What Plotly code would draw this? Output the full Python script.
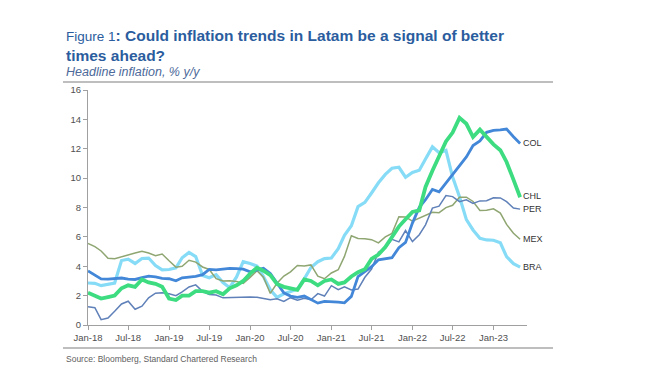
import plotly.graph_objects as go
import pandas as pd

months = pd.date_range("2018-01-01", "2023-05-01", freq="MS").strftime("%Y-%m-%d").tolist()

bra = [2.86, 2.84, 2.68, 2.76, 2.86, 4.39, 4.48, 4.19, 4.53, 4.56, 4.05, 3.75,
       3.78, 3.89, 4.58, 4.94, 4.66, 3.37, 3.22, 3.43, 2.89, 2.54, 3.27, 4.31,
       4.19, 4.01, 3.30, 2.40, 1.88, 2.13, 2.31, 2.44, 3.14, 3.92, 4.31, 4.52,
       4.56, 5.20, 6.10, 6.76, 8.06, 8.35, 8.99, 9.68, 10.25, 10.67, 10.74, 10.06,
       10.38, 10.54, 11.30, 12.13, 11.73, 11.89, 10.07, 8.73, 7.17, 6.47, 5.90, 5.79,
       5.77, 5.60, 4.65, 4.18, 3.94]
chl = [2.2, 2.0, 1.8, 1.9, 2.0, 2.5, 2.7, 2.6, 3.1, 2.9, 2.8, 2.6,
       1.8, 1.7, 2.0, 2.0, 2.3, 2.3, 2.2, 2.3, 2.1, 2.5, 2.7, 3.0,
       3.5, 3.9, 3.7, 3.4, 2.8, 2.6, 2.5, 2.4, 3.1, 3.0, 2.7, 3.0,
       3.1, 2.8, 2.9, 3.3, 3.6, 3.8, 4.5, 4.8, 5.3, 6.0, 6.7, 7.2,
       7.7, 7.8, 9.4, 10.5, 11.5, 12.5, 13.1, 14.1, 13.7, 12.8, 13.3, 12.8,
       12.3, 11.9, 11.1, 9.9, 8.7]
col = [3.68, 3.37, 3.14, 3.13, 3.16, 3.20, 3.12, 3.10, 3.23, 3.33, 3.27, 3.18,
       3.15, 3.01, 3.21, 3.25, 3.31, 3.43, 3.79, 3.75, 3.82, 3.86, 3.84, 3.80,
       3.62, 3.72, 3.86, 3.51, 2.85, 2.19, 1.97, 1.88, 1.97, 1.75, 1.49, 1.61,
       1.60, 1.56, 1.51, 1.95, 3.30, 3.63, 3.97, 4.44, 4.51, 4.58, 5.26, 5.62,
       6.94, 8.01, 8.53, 9.23, 9.07, 9.67, 10.21, 10.84, 11.44, 12.22, 12.53, 13.12,
       13.25, 13.28, 13.34, 12.82, 12.36]
per = [1.25, 1.18, 0.36, 0.48, 0.93, 1.43, 1.62, 1.07, 1.28, 1.85, 2.17, 2.19,
       2.13, 2.00, 2.25, 2.59, 2.73, 2.29, 2.08, 2.04, 1.85, 1.87, 1.87, 1.90,
       1.90, 1.89, 1.82, 1.72, 1.78, 1.60, 1.86, 1.69, 1.82, 1.72, 2.14, 1.97,
       2.68, 2.40, 2.60, 2.38, 2.45, 3.25, 3.81, 4.95, 5.23, 5.83, 5.66, 6.43,
       5.68, 6.15, 6.82, 7.96, 8.09, 8.81, 8.74, 8.40, 8.53, 8.28, 8.45, 8.46,
       8.66, 8.65, 8.40, 7.97, 7.89]
mex = [5.55, 5.34, 5.04, 4.55, 4.51, 4.65, 4.81, 4.90, 5.02, 4.90, 4.72, 4.83,
       4.37, 3.94, 4.00, 4.41, 4.28, 3.95, 3.78, 3.16, 3.00, 3.02, 2.97, 2.83,
       3.24, 3.70, 3.25, 2.15, 2.84, 3.33, 3.62, 4.05, 4.01, 4.09, 3.33, 3.15,
       3.54, 3.76, 4.67, 6.08, 5.89, 5.88, 5.81, 5.59, 6.00, 6.24, 7.37, 7.36,
       7.07, 7.28, 7.45, 7.68, 7.65, 7.99, 8.15, 8.70, 8.70, 8.41, 7.80, 7.82,
       7.91, 7.62, 6.85, 6.25, 5.84]

series_names = ["BRA", "MEX", "PER", "COL", "CHL"]
series_vals = [bra, mex, per, col, chl]
colors = ["#86dcf6", "#8fa672", "#5f80b8", "#4287d8", "#3ddc80"]
widths = [3.2, 1.5, 1.5, 2.8, 3.8]
label_y = {"BRA": 3.94, "MEX": 5.84, "PER": 7.9, "COL": 12.4, "CHL": 8.75}

y_ticks = [0, 2, 4, 6, 8, 10, 12, 14, 16]

FONT = "Liberation Sans, Arial"

fig = go.Figure()
for name, vals, c, w in zip(series_names, series_vals, colors, widths):
    fig.add_trace(go.Scatter(x=months, y=vals, mode="lines", name=name,
                             line=dict(color=c, width=w), showlegend=False))
    fig.add_annotation(x=months[-1], y=label_y[name], xref="x", yref="y",
                       text=name, showarrow=False, xanchor="left", xshift=1,
                       font=dict(family=FONT, size=9, color="#333333"))

W, H = 646, 380
OFF = 8  # page body margin
L, R, T, B = 88, 527, 90, 325

def px(x):
    return (x - L) / (R - L)

def py(y):
    return (B - y) / (B - T)

title = ("<span style='font-size:13.5px'>Figure 1</span><b>: Could inflation trends in Latam be a signal of better</b>"
         "<br><b>times ahead?</b>")
fig.add_annotation(x=px(64), y=py(25), xref="paper", yref="paper", xanchor="left", yanchor="top",
                   text=title, showarrow=False, align="left",
                   font=dict(family=FONT, size=15.5, color="#2b5d9e"))
fig.add_annotation(x=px(64), y=py(63), xref="paper", yref="paper", xanchor="left", yanchor="top",
                   text="<i>Headline inflation, % y/y</i>", showarrow=False, align="left",
                   font=dict(family=FONT, size=12.5, color="#4d6a9a"))
fig.add_annotation(x=px(64), y=py(352), xref="paper", yref="paper", xanchor="left", yanchor="top",
                   text="Source: Bloomberg, Standard Chartered Research", showarrow=False, align="left",
                   font=dict(family=FONT, size=8.5, color="#606060"))

for yy in (82, 348):
    fig.add_shape(type="line", xref="paper", yref="paper", x0=px(63), x1=px(553), y0=py(yy), y1=py(yy),
                  line=dict(color="#a8a8a8", width=1.5))

fig.update_layout(
    width=W, height=H,
    margin=dict(l=L - OFF, r=W - R + OFF, t=T - OFF, b=H - B + OFF, pad=0),
    paper_bgcolor="white", plot_bgcolor="white",
    font=dict(family=FONT, size=9.5, color="#505050"),
    xaxis=dict(type="date", range=["2018-01-01", "2023-06-01"], dtick="M6", tick0="2018-01-01",
               tickformat="%b-%y", showgrid=False, showline=True, linecolor="#a0a0a0", linewidth=1,
               ticks="outside", ticklen=4, tickcolor="#a0a0a0", zeroline=False),
    yaxis=dict(range=[0, 16], tickvals=y_ticks, showgrid=False, showline=True, linecolor="#a0a0a0",
               linewidth=1, ticks="outside", ticklen=4, tickcolor="#a0a0a0", zeroline=False),
)

fig.write_html("out.html")
